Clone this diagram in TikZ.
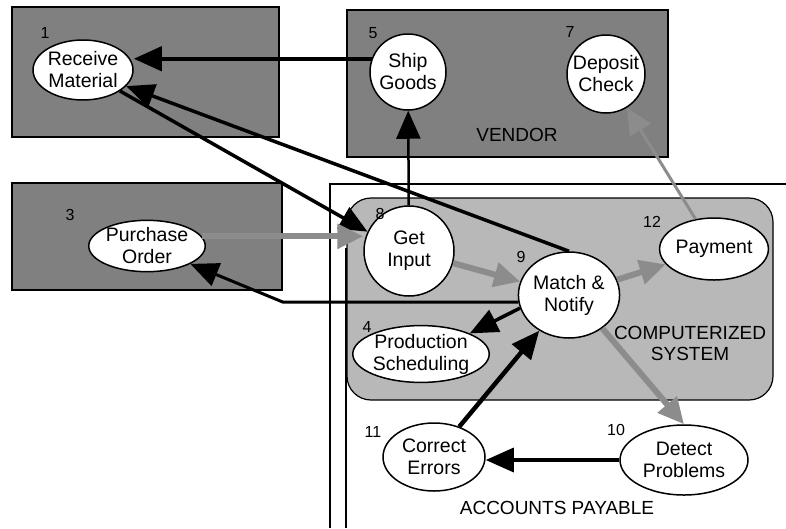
\documentclass[tikz,border=0pt]{standalone}
\usepackage{fontspec}
\setmainfont{Liberation Sans}
\usetikzlibrary{shapes.geometric,arrows.meta}
\definecolor{boxgray}{gray}{0.5}
\definecolor{sysgray}{gray}{0.72}
\definecolor{flowgray}{gray}{0.55}

\begin{document}
\begin{tikzpicture}[x=1pt, y=-1pt,
  proc/.style={ellipse, draw, line width=1.5pt, fill=white, inner sep=0pt, align=center, font=\fontsize{19.5}{22}\selectfont},
  proccirc/.style={circle, draw, line width=1.5pt, fill=white, inner sep=0pt, align=center, minimum size=#1, font=\fontsize{19.5}{22}\selectfont},
  num/.style={font=\fontsize{16}{16}\selectfont, inner sep=0pt},
  lbl/.style={font=\fontsize{19}{21}\selectfont, align=center, inner sep=0pt},
  area/.style={draw, line width=1.2pt, fill=boxgray},
  blk/.style={-{Triangle[length=28pt, width=24pt]}, line width=3.5pt},
  gry/.style={-{Triangle[length=26pt, width=24pt]}, line width=6pt, flowgray}
]
  \useasboundingbox (0,0) rectangle (786,528);

  \draw[area] (12,7) rectangle (279,137);
  \draw[area] (347,10) rectangle (668,157);
  \draw[area] (12,183) rectangle (282,290);
  \draw[line width=1.2pt] (330,528) -- (330,184) -- (786,184);
  \draw[line width=1.2pt] (346,248) -- (346,528);
  \draw[area, fill=sysgray, rounded corners=24pt] (347,198) rectangle (773,400);

  \node[proc, minimum width=100pt, minimum height=60pt] (rm) at (83,70) {Receive\\Material};
  \node[proccirc=76pt] (sg) at (408,72) {Ship\\Goods};
  \node[proccirc=78pt] (dc) at (606,74) {Deposit\\Check};
  \node[proc, minimum width=100pt, minimum height=50pt] (po) at (147,246) {Purchase\\Order};
  \node[proccirc=90pt] (gi) at (409,251) {Get\\Input};
  \node[proc, minimum width=92pt, minimum height=86pt] (mn) at (569,295) {Match \&\\Notify};
  \node[proc, minimum width=92pt, minimum height=62pt] (pay) at (714,249) {Payment};
  \node[proc, minimum width=132pt, minimum height=48pt] (ps) at (421,354) {Production\\Scheduling};
  \node[proc, minimum width=102pt, minimum height=68pt] (ce) at (434,457) {Correct\\Errors};
  \node[proc, minimum width=128pt, minimum height=70pt] (dp) at (684,460) {Detect\\Problems};

  \node[num] (n1) at (45,33) {1};
  \node[num] (n5) at (373,33) {5};
  \node[num] (n7) at (570,32) {7};
  \node[num] (n3) at (70,215) {3};
  \node[num] (n8) at (380,214) {8};
  \node[num] (n9) at (521,257) {9};
  \node[num] (n12) at (652,222) {12};
  \node[num] (n4) at (367,327) {4};
  \node[num] (n11) at (373,432) {11};
  \node[num] (n10) at (616,430) {10};

  \node[lbl] (vendor) at (517,135) {VENDOR};
  \node[lbl] (comp) at (690,343) {COMPUTERIZED\\SYSTEM};
  \node[lbl] (ap) at (557,508) {ACCOUNTS PAYABLE};

  \coordinate (pobend) at (283,301);

  \draw[blk, line width=4.5pt] (sg.160) -- (sg.160 -| rm.east);
  \draw[blk] (mn.north) -- (rm);
  \draw[blk] (rm) -- (gi.155);
  \draw[blk, line width=2.5pt] (gi) -- (sg);
  \draw[gry] (po.10) -- (po.10 -| gi.west);
  \draw[blk, line width=3pt] (mn.188) -- (mn.188 -| pobend) -- (po);
  \draw[gry] (gi) -- (mn);
  \draw[gry] (mn) -- (pay);
  \draw[gry, line width=3pt] (pay) -- (dc);
  \draw[blk] (mn.195) -- (ps.north east);
  \draw[gry] (mn.-45) -- (dp.north);
  \draw[blk, line width=4.5pt] (ce) -- (mn);
  \draw[blk] (dp.west) -- (dp.west -| ce.east);
\end{tikzpicture}
\end{document}
